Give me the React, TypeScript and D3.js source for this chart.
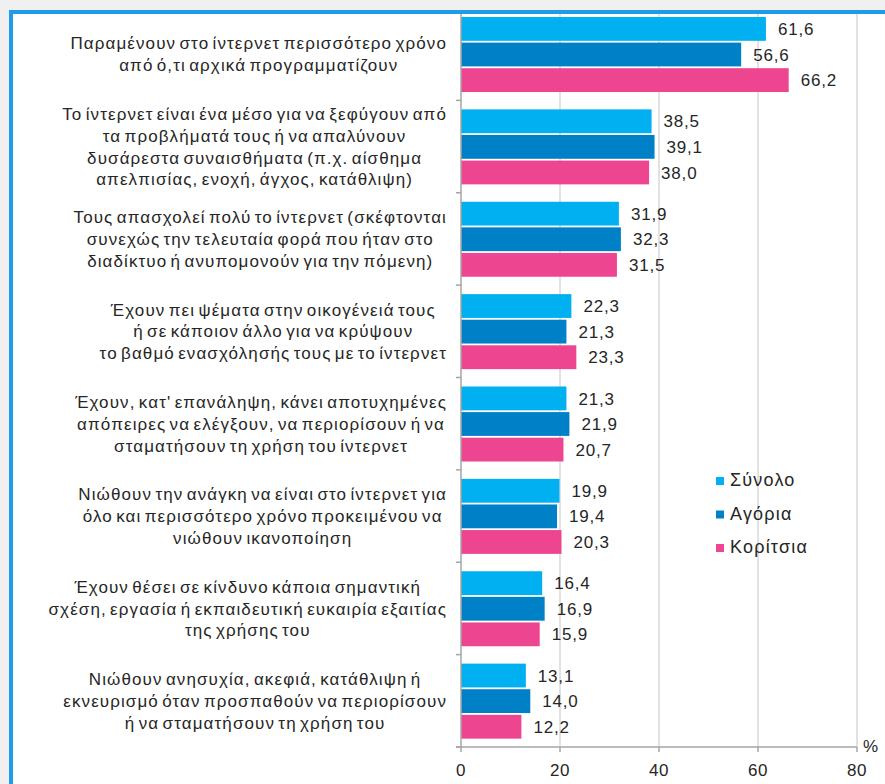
import React from 'react';
import * as d3 from 'd3';

const categories: string[][] = [
  ["Παραμένουν στο ίντερνετ περισσότερο χρόνο", "από ό,τι αρχικά προγραμματίζουν"],
  ["Το ίντερνετ είναι ένα μέσο για να ξεφύγουν από", "τα προβλήματά τους ή να απαλύνουν", "δυσάρεστα συναισθήματα (π.χ. αίσθημα", "απελπισίας, ενοχή, άγχος, κατάθλιψη)"],
  ["Τους απασχολεί πολύ το ίντερνετ (σκέφτονται", "συνεχώς την τελευταία φορά που ήταν στο", "διαδίκτυο ή ανυπομονούν για την πόμενη)"],
  ["Έχουν πει ψέματα στην οικογένειά τους", "ή σε κάποιον άλλο για να κρύψουν", "το βαθμό ενασχόλησής τους με το ίντερνετ"],
  ["Έχουν, κατ' επανάληψη, κάνει αποτυχημένες", "απόπειρες να ελέγξουν, να περιορίσουν ή να", "σταματήσουν τη χρήση του ίντερνετ"],
  ["Νιώθουν την ανάγκη να είναι στο ίντερνετ για", "όλο και περισσότερο χρόνο προκειμένου να", "νιώθουν ικανοποίηση"],
  ["Έχουν θέσει σε κίνδυνο κάποια σημαντική", "σχέση, εργασία ή εκπαιδευτική ευκαιρία εξαιτίας", "της χρήσης του"],
  ["Νιώθουν ανησυχία, ακεφιά, κατάθλιψη ή", "εκνευρισμό όταν προσπαθούν να περιορίσουν", "ή να σταματήσουν τη χρήση του"],
];

const seriesNames = ["Σύνολο", "Αγόρια", "Κορίτσια"];
const totalValues = [61.6, 38.5, 31.9, 22.3, 21.3, 19.9, 16.4, 13.1];
const boysValues = [56.6, 39.1, 32.3, 21.3, 21.9, 19.4, 16.9, 14.0];
const girlsValues = [66.2, 38.0, 31.5, 23.3, 20.7, 20.3, 15.9, 12.2];
const xTicks = [0, 20, 40, 60, 80];
const seriesColors = ["#00B0F0", "#0080C6", "#EE4591"];

const W = 885;
const H = 784;
const FONT = '"Liberation Sans", Arial, sans-serif';
const LABEL_FS = 17;
const LABEL_LS = 1.1;
const LABEL_WS = -2.5;
const LINE_H = 21.7;
const VALUE_FS = 17;
const VALUE_LS = 0.8;
const LEGEND_FS = 18;
const LEGEND_LS = 1.2;

function measure(text: string, size: number, ls: number, ws: number): number {
  const c = document.createElement('canvas').getContext('2d');
  if (!c) return text.length * size * 0.5;
  c.font = `${size}px "Liberation Sans"`;
  const spaces = (text.match(/ /g) || []).length;
  return c.measureText(text).width + ls * text.length + ws * spaces;
}

export default function App() {
  const series = [totalValues, boysValues, girlsValues];
  const x = d3.scaleLinear().domain([0, 80]).range([461, 857]);
  const y = d3.scaleBand<number>().domain(d3.range(categories.length)).range([8, 747]);
  const inner = d3.scaleBand<number>().domain(d3.range(3)).range([9, 84]).paddingInner(0.07);
  const labelRight = 447;
  const axisY = 747;

  return (
    <svg width={W} height={H} style={{ position: 'absolute', left: 0, top: 0 }} fontFamily={FONT}>
      <rect x={0} y={0} width={W} height={H} fill="#f0f0f0" />
      <rect x={11} y={12} width={W + 20} height={H + 20} fill="#ffffff" stroke="#1E9CEB" strokeWidth={4} />
      <clipPath id="plot">
        <rect x={14} y={14} width={W} height={H} />
      </clipPath>
      <g clipPath="url(#plot)">
        {xTicks.slice(1).map((t) => (
          <line key={t} x1={x(t)} x2={x(t)} y1={8} y2={axisY} stroke="#d9d9d9" strokeWidth={1.5} />
        ))}
        {categories.map((lines, i) => {
          const y0 = y(i)!;
          const bw = y.bandwidth();
          const maxW = d3.max(lines, (l) => measure(l, LABEL_FS, LABEL_LS, LABEL_WS)) || 0;
          const cx = labelRight - maxW / 2;
          const cy = y0 + bw / 2;
          const startY = cy - ((lines.length - 1) * LINE_H) / 2;
          return (
            <g key={i}>
              {series.map((vals, s) => (
                <g key={s}>
                  <rect
                    x={x(0)}
                    y={y0 + inner(s)!}
                    width={x(vals[i]) - x(0)}
                    height={inner.bandwidth()}
                    fill={seriesColors[s]}
                  />
                  <text
                    x={x(vals[i]) + 12}
                    y={y0 + inner(s)! + inner.bandwidth() / 2}
                    dy="0.36em"
                    fontSize={VALUE_FS}
                    letterSpacing={VALUE_LS}
                    fill="#262626"
                  >
                    {d3.format('.1f')(vals[i]).replace('.', ',')}
                  </text>
                </g>
              ))}
              <text fontSize={LABEL_FS} letterSpacing={LABEL_LS} wordSpacing={LABEL_WS} fill="#262626" textAnchor="middle">
                {lines.map((l, k) => (
                  <tspan key={k} x={cx} y={startY + k * LINE_H} dy="0.36em">
                    {l}
                  </tspan>
                ))}
              </text>
            </g>
          );
        })}
        {/* y axis */}
        <line x1={x(0)} x2={x(0)} y1={8} y2={axisY} stroke="#a6a6a6" strokeWidth={1.5} />
        {d3.range(categories.length + 1).map((i) => {
          const yy = i < categories.length ? y(i)! : axisY;
          return <line key={i} x1={x(0) - 5} x2={x(0)} y1={yy} y2={yy} stroke="#a6a6a6" strokeWidth={1.5} />;
        })}
        {/* x axis */}
        <line x1={x(0) - 5} x2={x(80)} y1={axisY} y2={axisY} stroke="#a6a6a6" strokeWidth={1.5} />
        {xTicks.map((t) => (
          <g key={t}>
            <line x1={x(t)} x2={x(t)} y1={axisY} y2={axisY + 5} stroke="#a6a6a6" strokeWidth={1.5} />
            <text x={x(t)} y={770} dy="0.36em" textAnchor="middle" fontSize={VALUE_FS} letterSpacing={0.5} fill="#262626">
              {t}
            </text>
          </g>
        ))}
        <text x={863} y={746} dy="0.36em" fontSize={VALUE_FS} fill="#262626">%</text>
        {/* legend */}
        {seriesNames.map((n, s) => {
          const ly = 480 + s * 33.5;
          return (
            <g key={n}>
              <rect x={716} y={ly - 3} width={8} height={8} fill={seriesColors[s]} />
              <text x={730} y={ly} dy="0.36em" fontSize={LEGEND_FS} letterSpacing={LEGEND_LS} fill="#262626">{n}</text>
            </g>
          );
        })}
      </g>
    </svg>
  );
}
